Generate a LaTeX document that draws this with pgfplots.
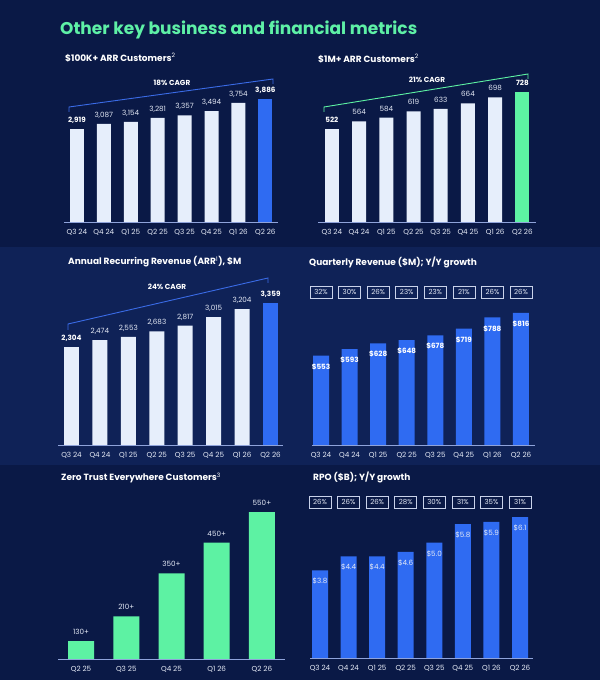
\documentclass[border=0pt]{standalone}
\usepackage{fontspec}
\setmainfont{Poppins}
\usepackage{pgfplots}
\pgfplotsset{compat=1.18}
\definecolor{bgA}{HTML}{0A1946}
\definecolor{bgB}{HTML}{0F2257}
\definecolor{lightbar}{HTML}{E6EEFB}
\definecolor{bluebar}{HTML}{2F6BF2}
\definecolor{greenbar}{HTML}{5DF2A3}
\definecolor{titlegreen}{HTML}{5EF0A6}
\definecolor{txt}{HTML}{E4E9F5}
\definecolor{baseln}{HTML}{8FA3DA}
\definecolor{boxline}{HTML}{C9D2EA}
\definecolor{bracketblue}{HTML}{3A6BE6}
\pgfplotsset{
  panel/.style={
    scale only axis, clip=false,
    axis x line*=bottom, axis y line=none,
    x axis line style={draw=baseln, line width=0.8pt, -},
    xtick={0,...,7},
    major tick length=0pt,
    xticklabel style={font=\fontsize{7.2}{8}\selectfont, text=txt, anchor=center, yshift=-10pt},
    /pgf/number format/assume math mode=true,
    /pgf/number format/1000 sep={,},
    ymin=0,
  },
  lbl/.style={nodes near coords, every node near coord/.append style={font=\fontsize{7.2}{8}\selectfont, text=txt, anchor=base, inner sep=0pt, yshift=6.5pt}},
  lblb/.style={nodes near coords, every node near coord/.append style={font=\fontsize{7.2}{8}\selectfont\bfseries, text=white, anchor=base, inner sep=0pt, yshift=6.5pt}},
  growthbox/.style={draw=none, nodes near coords={\pgfplotspointmeta\%}, point meta=explicit symbolic,
    every node near coord/.style={draw=boxline, line width=0.7pt, text=txt, font=\fontsize{7}{8}\selectfont, anchor=center, minimum width=22pt, minimum height=12pt, inner sep=0pt}},
}
\begin{document}
\begin{tikzpicture}
\begin{scope}[shift={(0,680pt)}, x=1pt, y=-1pt]
\fill[bgA] (0,0) rectangle (600,680);
\fill[bgB] (0,247) rectangle (600,465);
\end{scope}

% Panel 1
\begin{axis}[panel, at={(64pt,458pt)}, anchor=south west, width=214pt, height=150pt,
  xmin=-0.48, xmax=7.47, ymax=4725,
  xticklabels={Q3 24,Q4 24,Q1 25,Q2 25,Q3 25,Q4 25,Q1 26,Q2 26}]
\addplot[ybar, bar width=14pt, bar shift=0pt, fill=lightbar, draw=none, lblb] coordinates {(0,2919)};
\addplot[ybar, bar width=14pt, bar shift=0pt, fill=lightbar, draw=none, lbl] coordinates {(1,3087) (2,3154) (3,3281) (4,3357) (5,3494) (6,3754)};
\addplot[ybar, bar width=14pt, bar shift=0pt, fill=bluebar, draw=none, lblb] coordinates {(7,3886)};
\end{axis}

% Panel 2
\begin{axis}[panel, at={(318pt,458pt)}, anchor=south west, width=218pt, height=150pt,
  xmin=-0.51, xmax=7.5, ymax=840,
  xticklabels={Q3 24,Q4 24,Q1 25,Q2 25,Q3 25,Q4 25,Q1 26,Q2 26}]
\addplot[ybar, bar width=14pt, bar shift=0pt, fill=lightbar, draw=none, lblb] coordinates {(0,522)};
\addplot[ybar, bar width=14pt, bar shift=0pt, fill=lightbar, draw=none, lbl] coordinates {(1,564) (2,584) (3,619) (4,633) (5,664) (6,698)};
\addplot[ybar, bar width=14pt, bar shift=0pt, fill=greenbar, draw=none, lblb] coordinates {(7,728)};
\end{axis}

% Panel 3
\begin{axis}[panel, at={(58pt,235pt)}, anchor=south west, width=225pt, height=150pt,
  xmin=-0.475, xmax=7.44, ymax=3540,
  xticklabels={Q3 24,Q4 24,Q1 25,Q2 25,Q3 25,Q4 25,Q1 26,Q2 26}]
\addplot[ybar, bar width=15pt, bar shift=0pt, fill=lightbar, draw=none, lblb] coordinates {(0,2304)};
\addplot[ybar, bar width=15pt, bar shift=0pt, fill=lightbar, draw=none, lbl] coordinates {(1,2474) (2,2553) (3,2683) (4,2817) (5,3015) (6,3204)};
\addplot[ybar, bar width=15pt, bar shift=0pt, fill=bluebar, draw=none, lblb] coordinates {(7,3359)};
\end{axis}

% Panel 4
\begin{axis}[panel, at={(312pt,235pt)}, anchor=south west, width=223pt, height=150pt,
  xmin=-0.315, xmax=7.49, ymax=927,
  xticklabels={Q3 24,Q4 24,Q1 25,Q2 25,Q3 25,Q4 25,Q1 26,Q2 26}]
\addplot[ybar, bar width=16pt, bar shift=0pt, fill=bluebar, draw=none,
  nodes near coords={\$\pgfmathprintnumber{\pgfplotspointmeta}},
  every node near coord/.append style={font=\fontsize{7.2}{8}\selectfont\bfseries, text=white, anchor=center, inner sep=0pt, yshift=-11pt}]
  coordinates {(0,553) (1,593) (2,628) (3,648) (4,678) (5,719) (6,788) (7,816)};
\addplot[growthbox] coordinates {(0,945)[32] (1,945)[30] (2,945)[26] (3,945)[23] (4,945)[23] (5,945)[21] (6,945)[26] (7,945)[26]};
\end{axis}

% Panel 5
\begin{axis}[panel, clip=true, at={(58pt,21pt)}, anchor=south west, width=227pt, height=164pt,
  xmin=-0.51, xmax=4.51, ymin=71.4, ymax=605.5, xtick={0,...,4},
  xticklabels={Q2 25,Q3 25,Q4 25,Q1 26,Q2 26}]
\addplot[ybar, bar width=26pt, bar shift=0pt, fill=greenbar, draw=none,
  nodes near coords={\pgfmathprintnumber{\pgfplotspointmeta}+},
  every node near coord/.append style={font=\fontsize{7.2}{8}\selectfont, text=txt, anchor=base, inner sep=0pt, yshift=6.5pt}]
  coordinates {(0,130) (1,210) (2,350) (3,450) (4,550)};
\end{axis}

% Panel 6
\begin{axis}[panel, at={(310pt,22pt)}, anchor=south west, width=223pt, height=150pt,
  xmin=-0.35, xmax=7.455, ymax=6.5,
  xticklabels={Q3 24,Q4 24,Q1 25,Q2 25,Q3 25,Q4 25,Q1 26,Q2 26}]
\addplot[ybar, bar width=16pt, bar shift=0pt, fill=bluebar, draw=none,
  nodes near coords={\$\pgfmathprintnumber[fixed,fixed zerofill,precision=1]{\pgfplotspointmeta}},
  every node near coord/.append style={font=\fontsize{7.2}{8}\selectfont, text=txt, anchor=center, inner sep=0pt, yshift=-11pt}]
  coordinates {(0,3.8) (1,4.4) (2,4.4) (3,4.6) (4,5.0) (5,5.8) (6,5.9) (7,6.1)};
\addplot[growthbox] coordinates {(0,6.75)[26] (1,6.75)[26] (2,6.75)[26] (3,6.75)[28] (4,6.75)[30] (5,6.75)[31] (6,6.75)[35] (7,6.75)[31]};
\end{axis}

\begin{scope}[shift={(0,680pt)}, x=1pt, y=-1pt]
\node[anchor=west, text=titlegreen, font=\fontsize{17}{20}\selectfont\bfseries, inner sep=0pt] at (60,30) {Other key business and financial metrics};
\node[anchor=west, text=white, font=\fontsize{9}{10}\selectfont\bfseries, inner sep=0pt] at (65,58) {\$100K+ ARR Customers\textsuperscript{\mdseries 2}};
\node[anchor=west, text=white, font=\fontsize{9}{10}\selectfont\bfseries, inner sep=0pt] at (318,59) {\$1M+ ARR Customers\textsuperscript{\mdseries 2}};
\node[anchor=west, text=white, font=\fontsize{9}{10}\selectfont\bfseries, inner sep=0pt] at (68,262) {Annual Recurring Revenue (ARR\textsuperscript{\mdseries 1}), \$M};
\node[anchor=west, text=white, font=\fontsize{9}{10}\selectfont\bfseries, inner sep=0pt] at (309,262) {Quarterly Revenue (\$M); Y/Y growth};
\node[anchor=west, text=white, font=\fontsize{9}{10}\selectfont\bfseries, inner sep=0pt] at (61,478) {Zero Trust Everywhere Customers\textsuperscript{\mdseries 3}};
\node[anchor=west, text=white, font=\fontsize{9}{10}\selectfont\bfseries, inner sep=0pt] at (313,477) {RPO (\$B); Y/Y growth};
% CAGR brackets
\draw[bracketblue, line width=0.9pt] (69,112) -- (69,107) -- (273,79) -- (273,84);
\node[text=white, font=\fontsize{7.3}{8}\selectfont\bfseries, inner sep=0pt] at (172,83) {18\% CAGR};
\draw[greenbar, line width=0.9pt] (324,112) -- (324,107) -- (528,74) -- (528,79);
\node[text=white, font=\fontsize{7.3}{8}\selectfont\bfseries, inner sep=0pt] at (427,80) {21\% CAGR};
\draw[bracketblue, line width=0.9pt] (68,330) -- (68,324) -- (268,278) -- (268,283);
\node[text=white, font=\fontsize{7.3}{8}\selectfont\bfseries, inner sep=0pt] at (167,287) {24\% CAGR};
\end{scope}
\end{tikzpicture}
\end{document}
